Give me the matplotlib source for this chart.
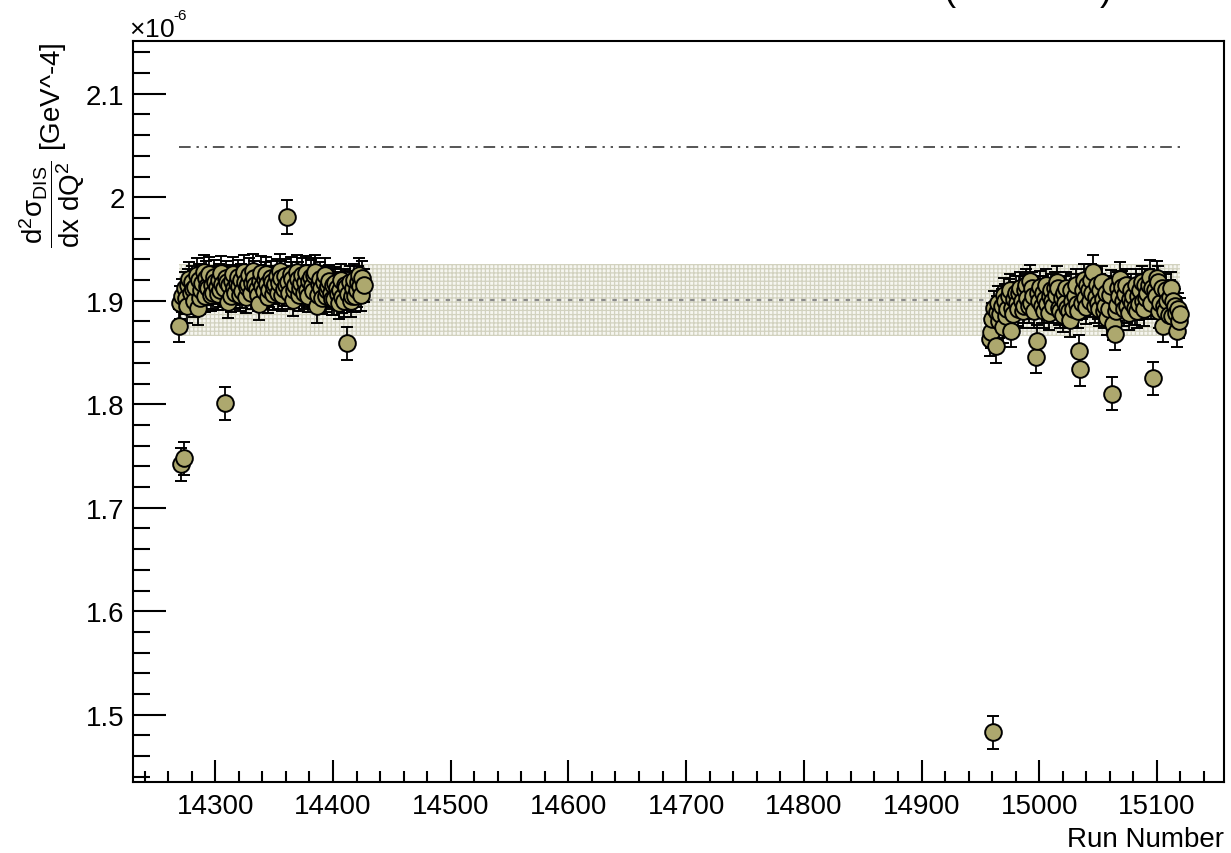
import numpy as np
import matplotlib
matplotlib.use("Agg")
import matplotlib.pyplot as plt
from matplotlib.ticker import MultipleLocator, FuncFormatter

# DIS cross section per run, in units of 1e-6 GeV^-4
runs_a = [14269, 14271, 14273, 14272, 14274, 14276, 14277, 14279, 14280, 14282,
          14283, 14285, 14286, 14288, 14289, 14291, 14292, 14294, 14295, 14297,
          14298, 14300, 14301, 14303, 14304, 14306, 14308, 14309, 14311, 14312,
          14314, 14316, 14318, 14320, 14322, 14323, 14325, 14327, 14329, 14331,
          14333, 14335, 14337, 14338, 14340, 14342, 14344, 14346, 14348, 14350,
          14352, 14354, 14356, 14358, 14361, 14362, 14364, 14366, 14368, 14370,
          14372, 14374, 14376, 14378, 14380, 14382, 14384, 14386, 14388, 14390,
          14392, 14394, 14396, 14398, 14400, 14401, 14403, 14405, 14406, 14408,
          14410, 14412, 14413, 14415, 14417, 14419, 14421, 14423, 14425,
          14270, 14275, 14278, 14281, 14284, 14287, 14290, 14293, 14296, 14299,
          14302, 14305, 14307, 14310, 14313, 14315, 14317, 14319, 14321, 14324,
          14326, 14328, 14330, 14332, 14334, 14336, 14339, 14341, 14343, 14345,
          14347, 14349, 14351, 14353, 14355, 14357, 14359, 14360, 14363, 14365,
          14367, 14369, 14371, 14373, 14375, 14377, 14379, 14381, 14383, 14385,
          14387, 14389, 14391, 14393, 14395, 14397, 14399, 14402, 14404, 14407,
          14409, 14411, 14414, 14416, 14418, 14420, 14422, 14424, 14426]
xsec_a = [1.876, 1.742, 1.748, 1.905, 1.912, 1.895, 1.915, 1.908, 1.918, 1.900,
          1.913, 1.893, 1.920, 1.910, 1.917, 1.905, 1.922, 1.912, 1.926, 1.915,
          1.908, 1.918, 1.913, 1.920, 1.910, 1.916, 1.801, 1.922, 1.899, 1.915,
          1.919, 1.912, 1.917, 1.914, 1.920, 1.909, 1.918, 1.913, 1.925, 1.917,
          1.922, 1.911, 1.897, 1.919, 1.914, 1.921, 1.916, 1.910, 1.918, 1.913,
          1.924, 1.917, 1.922, 1.911, 1.981, 1.918, 1.926, 1.901, 1.915, 1.921,
          1.912, 1.925, 1.918, 1.910, 1.919, 1.914, 1.925, 1.895, 1.916, 1.912,
          1.918, 1.905, 1.914, 1.908, 1.915, 1.902, 1.912, 1.898, 1.910, 1.904,
          1.915, 1.859, 1.907, 1.900, 1.912, 1.905, 1.918, 1.914, 1.922,
          1.898, 1.903, 1.921, 1.911, 1.925, 1.903, 1.928, 1.914, 1.906, 1.923,
          1.907, 1.927, 1.912, 1.918, 1.905, 1.926, 1.908, 1.923, 1.906, 1.928,
          1.904, 1.916, 1.908, 1.929, 1.915, 1.906, 1.927, 1.909, 1.926, 1.904,
          1.922, 1.907, 1.916, 1.908, 1.929, 1.906, 1.924, 1.915, 1.908, 1.921,
          1.910, 1.928, 1.906, 1.917, 1.908, 1.927, 1.905, 1.923, 1.909, 1.928,
          1.906, 1.921, 1.903, 1.925, 1.910, 1.919, 1.902, 1.917, 1.907, 1.920,
          1.900, 1.913, 1.918, 1.905, 1.920, 1.910, 1.925, 1.906, 1.915]

runs_b = [14958, 14961, 14963, 14964, 14966, 14968, 14969, 14971, 14972, 14974,
          14976, 14977, 14979, 14981, 14983, 14985, 14987, 14988, 14990, 14992,
          14993, 14995, 14997, 14998, 15000, 15002, 15003, 15005, 15007, 15009,
          15011, 15013, 15015, 15017, 15019, 15020, 15022, 15024, 15026, 15028,
          15030, 15032, 15034, 15035, 15037, 15039, 15041, 15043, 15045, 15046,
          15048, 15050, 15052, 15054, 15056, 15058, 15060, 15062, 15064, 15065,
          15067, 15069, 15071, 15073, 15075, 15077, 15079, 15081, 15084, 15086,
          15088, 15090, 15092, 15094, 15096, 15097, 15099, 15101, 15103, 15105,
          15107, 15109, 15111, 15113, 15115, 15117, 15119,
          14959, 14960, 14962, 14965, 14967, 14970, 14973, 14975, 14978, 14980,
          14982, 14984, 14986, 14989, 14991, 14994, 14996, 14999, 15001, 15004,
          15006, 15008, 15010, 15012, 15014, 15016, 15018, 15021, 15023, 15025,
          15027, 15029, 15031, 15033, 15036, 15038, 15040, 15042, 15044, 15047,
          15049, 15051, 15053, 15055, 15057, 15059, 15061, 15063, 15066, 15068,
          15070, 15072, 15074, 15076, 15078, 15080, 15082, 15083, 15085, 15087,
          15089, 15091, 15093, 15095, 15098, 15100, 15102, 15104, 15106, 15108,
          15110, 15112, 15114, 15116, 15118, 15120]
xsec_b = [1.863, 1.483, 1.856, 1.889, 1.880, 1.895, 1.875, 1.900, 1.885, 1.905,
          1.871, 1.893, 1.902, 1.898, 1.908, 1.900, 1.895, 1.910, 1.903, 1.919,
          1.898, 1.905, 1.846, 1.861, 1.900, 1.895, 1.908, 1.902, 1.897, 1.905,
          1.900, 1.912, 1.918, 1.893, 1.903, 1.886, 1.898, 1.893, 1.881, 1.900,
          1.905, 1.897, 1.851, 1.834, 1.910, 1.903, 1.915, 1.900, 1.908, 1.928,
          1.904, 1.898, 1.910, 1.902, 1.895, 1.883, 1.906, 1.810, 1.868, 1.890,
          1.912, 1.921, 1.900, 1.907, 1.895, 1.902, 1.898, 1.893, 1.905, 1.910,
          1.900, 1.915, 1.908, 1.923, 1.912, 1.825, 1.905, 1.918, 1.898, 1.876,
          1.890, 1.900, 1.904, 1.885, 1.895, 1.871, 1.880,
          1.870, 1.882, 1.893, 1.898, 1.887, 1.906, 1.892, 1.910, 1.887, 1.908,
          1.892, 1.912, 1.890, 1.915, 1.895, 1.912, 1.890, 1.908, 1.913, 1.890,
          1.915, 1.888, 1.910, 1.895, 1.906, 1.912, 1.890, 1.908, 1.912, 1.890,
          1.910, 1.892, 1.915, 1.890, 1.898, 1.920, 1.894, 1.910, 1.920, 1.895,
          1.915, 1.892, 1.918, 1.890, 1.908, 1.892, 1.914, 1.878, 1.896, 1.905,
          1.913, 1.892, 1.915, 1.888, 1.910, 1.905, 1.915, 1.890, 1.897, 1.918,
          1.892, 1.903, 1.915, 1.898, 1.910, 1.922, 1.890, 1.912, 1.895, 1.910,
          1.886, 1.912, 1.900, 1.888, 1.892, 1.887]

xsec_err = 0.016

# fit summary lines
mean_xsec = 1.901
band_lo, band_hi = 1.866, 1.936
ref_xsec = 2.049

plt.rcParams['font.family'] = ['Liberation Sans', 'DejaVu Sans']
plt.rcParams['mathtext.fontset'] = 'custom'
plt.rcParams['mathtext.rm'] = 'Liberation Sans'
plt.rcParams['mathtext.it'] = 'Liberation Sans:italic'
plt.rcParams['mathtext.default'] = 'regular'
plt.rcParams['hatch.linewidth'] = 0.9

fig = plt.figure(figsize=(12.31, 8.54), dpi=100)
ax = fig.add_axes([0.108, 0.0831, 0.8863, 0.8677])

runs = np.array(runs_a + runs_b)
xsec = np.array(xsec_a + xsec_b)
x0, x1 = runs.min(), runs.max()

ax.fill_between([x0, x1], band_lo, band_hi, facecolor='#f6f6f0', edgecolor='#d2d2bf',
                hatch='++++', linewidth=0, zorder=1)
ax.plot([x0, x1], [mean_xsec, mean_xsec], color='#8c8c8c', lw=1.6,
        linestyle=(0, (2, 3)), zorder=1)
ax.plot([x0, x1], [ref_xsec, ref_xsec], color='#555555', lw=1.4,
        linestyle=(0, (6, 3, 1.2, 3, 1.2, 3)), zorder=1)

# one point at a time in run order so later bars sit over earlier markers
order = np.argsort(runs, kind='stable')
for k, i in enumerate(order):
    ax.errorbar(runs[i], xsec[i], yerr=xsec_err, fmt='o', ms=12, mfc='#ada86e',
                mec='black', mew=1.4, ecolor='black', elinewidth=1.3, capsize=4.3,
                capthick=1.3, zorder=3 + k * 1e-4)

ax.set_xlim(14230, 15157)
ax.set_ylim(1.435, 2.151)

ax.xaxis.set_major_locator(MultipleLocator(100))
ax.xaxis.set_minor_locator(MultipleLocator(20))
ax.yaxis.set_major_locator(MultipleLocator(0.1))
ax.yaxis.set_minor_locator(MultipleLocator(0.02))
ax.yaxis.set_major_formatter(FuncFormatter(lambda v, p: f"{v:g}"))

ax.tick_params(axis='both', which='both', direction='in', top=False, right=False,
               labelsize=20, width=1.5)
ax.tick_params(axis='x', which='major', length=16, pad=8)
ax.tick_params(axis='x', which='minor', length=8)
ax.tick_params(axis='y', which='major', length=24, pad=6)
ax.tick_params(axis='y', which='minor', length=12)
for sp in ax.spines.values():
    sp.set_linewidth(1.5)

ax.set_xlabel('Run Number', loc='right', fontsize=20, labelpad=5)
fig.text(52 / 1231, 1 - 42 / 854,
         r'$\dfrac{d^{2}\sigma_{DIS}}{dx\ dQ^{2}}$ [GeV^-4]',
         rotation=90, ha='center', va='top', fontsize=20)
fig.text(129 / 1231, 1 - 37 / 854, r'$\times$10', ha='left', va='baseline', fontsize=19)
fig.text(173 / 1231, 1 - 20 / 854, '-6', ha='left', va='baseline', fontsize=11)

# title line along the top edge
fig.text(944 / 1231, 1.0, '(', ha='left', va='baseline', fontsize=26)
fig.text(1100 / 1231, 1.0, ')', ha='left', va='baseline', fontsize=26)

fig.savefig('out.png', dpi=100)
